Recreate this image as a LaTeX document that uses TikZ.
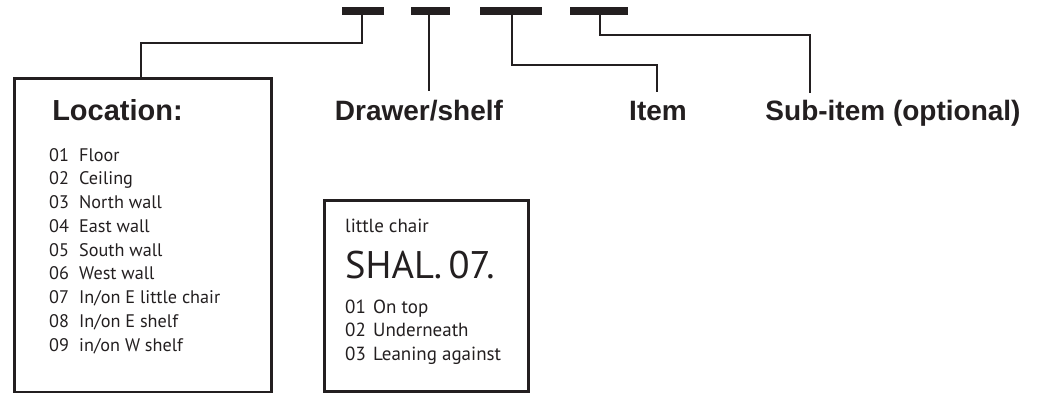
\documentclass[tikz,border=0pt]{standalone}
\usepackage{fontspec}
\setmainfont{PT Sans}
\newfontfamily\headfont{Liberation Sans}
\definecolor{ink}{RGB}{35,31,32}
\tikzset{
  bar/.style={fill=ink, draw=none, inner sep=0pt, minimum height=8pt},
  link/.style={draw=ink, line width=2.7pt},
  frame/.style={draw=ink, line width=3pt, inner sep=0pt, anchor=north west},
  heading/.style={text=ink, anchor=base, inner sep=0pt,
    font=\headfont\bfseries\fontsize{28}{30}\selectfont},
  entry/.style={text=ink, anchor=base west, inner sep=0pt,
    font=\fontsize{18.2}{20}\selectfont},
  cardentry/.style={entry, font=\fontsize{19}{21}\selectfont},
}
\newcommand{\codeline}[3][30pt]{\makebox[#1][l]{#2}#3}
\begin{document}
\begin{tikzpicture}[x=1pt, y=-1pt]
\useasboundingbox (0,0) rectangle (1042,393);

% code segments
\node[bar, minimum width=42pt] (bar1) at (363,11) {};
\node[bar, minimum width=39pt] (bar2) at (430.5,11) {};
\node[bar, minimum width=62pt] (bar3) at (511,11) {};
\node[bar, minimum width=58pt] (bar4) at (599,11) {};

% field names
\node[heading] (drawer) at (419,121) {Drawer/shelf};
\node[heading] (item) at (658,121) {Item};
\node[heading] (subitem) at (893,121) {Sub-item (optional)};

% location legend
\node[frame, minimum width=257pt, minimum height=314pt] (locbox) at (13,77) {};
\node[heading, font=\headfont\bfseries\fontsize{29}{31}\selectfont] (loctitle) at (117.5,121) {Location:};
\node[entry] (l1) at (49,161) {\codeline{01}{Floor}};
\node[entry] (l2) at (49,184.75) {\codeline{02}{Ceiling}};
\node[entry] (l3) at (49,208.5) {\codeline{03}{North wall}};
\node[entry] (l4) at (49,232.25) {\codeline{04}{East wall}};
\node[entry] (l5) at (49,256) {\codeline{05}{South wall}};
\node[entry] (l6) at (49,279.75) {\codeline{06}{West wall}};
\node[entry] (l7) at (49,303.5) {\codeline{07}{In/on E little chair}};
\node[entry] (l8) at (49,327.25) {\codeline{08}{In/on E shelf}};
\node[entry] (l9) at (49,351) {\codeline{09}{in/on W shelf}};

% example card
\node[frame, minimum width=204pt, minimum height=191pt] (card) at (323,199) {};
\node[cardentry] (ctitle) at (345,232) {little chair};
\node[entry, font=\fontsize{38.5}{42}\selectfont] (ccode) at (345,278) {SHAL.\,07.};
\node[cardentry] (c1) at (345,313) {\codeline[28pt]{01}{On top}};
\node[cardentry] (c2) at (345,336.5) {\codeline[28pt]{02}{Underneath}};
\node[cardentry] (c3) at (345,360) {\codeline[28pt]{03}{Leaning against}};

% connectors
\coordinate (k1) at (141,43);
\coordinate (k3) at (657,65);
\coordinate (k4) at (810,35);
\draw[link] (bar1.south -| 362,0) |- (k1) -- (k1 |- locbox.north);
\draw[link] (bar2.south -| 429,0) -- (429,91);
\draw[link] (bar3.south -| 512,0) |- (k3) -- (k3 |- 0,92);
\draw[link] (bar4.south -| 600,0) |- (k4) -- (k4 |- 0,93);
\end{tikzpicture}
\end{document}
